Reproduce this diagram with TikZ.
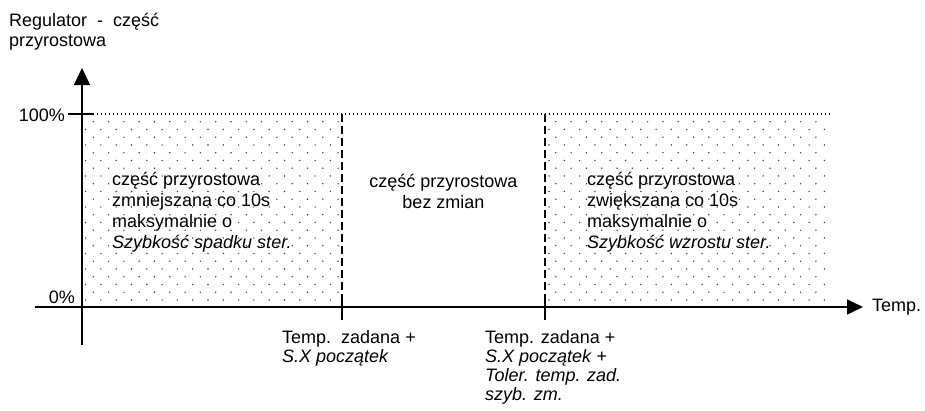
\documentclass[tikz,border=0pt]{standalone}
\usepackage{fontspec}
\setmainfont{Liberation Sans}
\usetikzlibrary{arrows.meta}
\begin{document}
\begin{tikzpicture}[x=1pt,y=-1pt,
  lbl/.style={inner sep=0pt,font=\fontsize{18}{21}\selectfont},
  lblt/.style={inner sep=0pt,font=\fontsize{18}{20}\selectfont},
  lblb/.style={inner sep=0pt,font=\fontsize{18}{19}\selectfont,align=left,anchor=north west},
  axisline/.style={line width=1.6pt},
  splitline/.style={line width=1.7pt,dash pattern=on 8pt off 4pt},
  tickline/.style={line width=1.7pt},
  dot/.style={fill=black!75}]
\useasboundingbox (0,0) rectangle (925,410);
% dotted fill
\foreach \r in {0,...,23}{
  \pgfmathsetmacro\yy{121.7+7.75*\r}
  \pgfmathsetmacro\xo{mod(\r,2)==0 ? 93.3 : 85.6}
  \pgfmathsetmacro\xr{mod(\r,2)==0 ? 555.8 : 549}
  \foreach \c in {0,...,16}{
    \pgfmathsetmacro\xx{\xo+15.3*\c}
    \ifdim \xx pt<340pt \fill[dot] (\xx,\yy) circle (0.8pt);\fi
  }
  \foreach \c in {0,...,18}{
    \pgfmathsetmacro\xx{\xr+15.3*\c}
    \ifdim \xx pt<828pt \fill[dot] (\xx,\yy) circle (0.8pt);\fi
  }
}
% coordinates
\coordinate (yb) at (82,345);
\coordinate (yt) at (82,68);
\coordinate (xl) at (35,307);
\coordinate (xr) at (863,307);
\coordinate (t1) at (68,114);
\coordinate (t2) at (93,114);
\coordinate (tr) at (830,114);
\coordinate (a1) at (342,114);
\coordinate (a2) at (342,298);
\coordinate (a3) at (342,296);
\coordinate (a4) at (342,320);
\coordinate (b1) at (545,114);
\coordinate (b2) at (545,298);
\coordinate (b3) at (545,296);
\coordinate (b4) at (545,320);
% top dotted line
\draw[line width=1.2pt,dash pattern=on 1.2pt off 2.8pt] (t2) -- (tr);
% axes
\draw[axisline,-{Triangle[length=17pt,width=16pt]}] (yb) -- (yt);
\draw[axisline,-{Triangle[length=16pt,width=15pt]}] (xl) -- (xr);
\draw[axisline] (t1) -- (t2);
% split lines
\draw[splitline] (a1) -- (a2);
\draw[tickline] (a3) -- (a4);
\draw[splitline] (b1) -- (b2);
\draw[tickline] (b3) -- (b4);
% labels
\node[lblt,anchor=north west,align=left] (title) at (9,13) {Regulator\ \ -\ \ część\\przyrostowa};
\node[lbl,anchor=east] (p100) at (65,115) {100\%};
\node[lbl,anchor=base east] (p0) at (75,303) {0\%};
\node[lbl,anchor=west] (temp) at (872,307) {Temp.};
\node[lbl,anchor=west,align=left] (left) at (112,212) {część przyrostowa\\zmniejszana co 10s\\maksymalnie o\\\textit{Szybkość spadku ster.}};
\node[lbl,anchor=center,align=center] (mid) at (443.5,191) {część przyrostowa\\bez zmian};
\node[lbl,anchor=west,align=left] (right) at (587,212) {część przyrostowa\\zwiększana co 10s\\maksymalnie o\\\textit{Szybkość wzrostu ster.}};
\node[lblb] (s1) at (282,330) {Temp.\ \ zadana +\\\textit{S.X początek}};
\node[lblb] (s2) at (485,330) {Temp. zadana +\\\textit{S.X początek +}\\\textit{Toler. temp. zad.}\\\textit{szyb. zm.}};
\end{tikzpicture}
\end{document}
